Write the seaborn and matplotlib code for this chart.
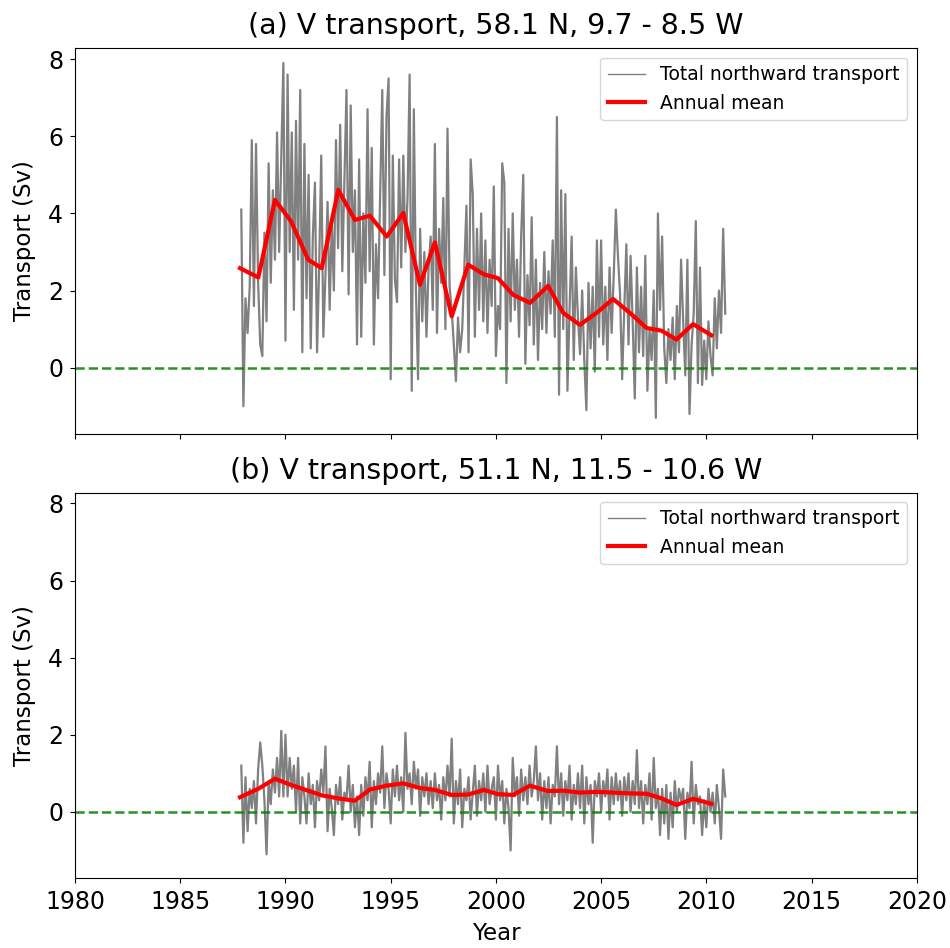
import matplotlib
matplotlib.use("Agg")
import matplotlib.pyplot as plt
import numpy as np
import pandas as pd
import seaborn as sns

# time axis of the gray series: one value every 0.1 yr, 1987.9 .. 2010.9
t_start, t_step = 1987.9, 0.1

# (a) 58.1 N, total northward transport (Sv)
transport_a = [
    4.1, -1.0, 1.8, 0.9, 2.1, 5.9, 1.6, 5.8, 2.2, 0.6,
    0.3, 3.5, 1.2, 5.3, 2.2, 4.6, 2.8, 6.1, 3.0, 5.4,
    7.9, 0.7, 7.6, 3.0, 6.1, 1.5, 6.4, 2.8, 7.2, 0.4,
    5.8, 1.8, 5.0, 0.5, 3.4, 4.8, 0.4, 2.6, 5.5, 0.8,
    2.4, 4.3, 1.5, 3.8, 2.0, 5.9, 3.1, 6.3, 2.5, 4.9,
    7.2, 1.9, 6.8, 3.0, 4.6, 0.6, 5.4, 0.8, 4.0, 2.2,
    6.7, 2.5, 5.7, 0.6, 3.2, 1.8, 4.5, 7.2, 2.4, 6.5,
    7.5, -0.3, 5.5, 2.3, 1.7, 5.4, 2.6, 5.5, 3.0, 4.4,
    7.6, -0.6, 6.7, 2.0, -0.3, 3.6, 1.2, 3.0, 0.8, 2.6,
    3.4, 1.5, 5.8, 0.9, 3.6, 2.2, 4.4, 1.0, 6.2, 2.1,
    1.5, 0.6, -0.35, 1.3, 0.4, 1.0, 2.6, 4.2, 0.4, 5.4,
    4.5, 0.8, 3.6, 1.5, 4.0, 1.2, 3.3, 0.9, 2.8, 1.6,
    4.7, 0.3, 1.6, 1.0, 5.3, 4.8, -0.4, 3.6, 1.2, 4.0,
    1.5, 2.8, 0.8, 3.4, 5.0, 0.1, 2.4, 1.1, 3.9, 0.6,
    2.8, 0.2, 2.2, 1.0, 3.0, 0.9, 2.5, 1.4, 3.3, 0.8,
    6.5, -0.7, 4.6, 1.0, 4.5, -0.6, 1.5, 3.4, 0.2, 2.6,
    1.3, 0.35, 2.0, 0.2, -1.1, 2.2, 0.5, 2.1, -0.1, 3.3,
    0.8, 3.3, 0.6, 2.1, 0.2, 2.6, 0.9, 2.4, 4.1, 2.9,
    1.9, -0.3, 1.5, 3.2, 0.6, 2.9, 1.2, -0.8, 2.6, 0.4,
    2.1, 0.3, 2.9, -0.6, 1.0, 0.2, 2.0, -1.3, 4.0, 1.5,
    3.4, 0.5, -0.4, 1.0, 0.2, 1.3, -0.3, 1.6, 0.4, 2.8,
    1.2, -0.2, 2.8, -1.2, 0.6, 1.4, 3.8, -0.4, 2.6, -0.45,
    0.7, -0.3, 1.2, 0.3, -0.2, 1.8, 0.5, 2.0, 0.9, 3.6, 1.4,
]

# (b) 51.1 N
transport_b = [
    1.2, -0.8, 0.9, -0.5, 0.6, 0.1, 0.8, -0.3, 1.1, 1.8,
    1.2, 0.3, -1.1, 0.8, 0.2, 1.1, 0.5, 1.4, 0.4, 2.1,
    0.4, 2.0, 0.4, 1.4, 0.6, 1.2, 0.0, 1.4, -0.3, 0.9,
    0.4, -0.3, 1.0, 0.2, 0.7, -0.4, 0.8, 0.3, 1.1, 0.5,
    1.7, -0.5, 0.6, 0.1, -0.6, 0.7, 0.2, 0.9, -0.2, 0.5,
    0.3, 1.2, 0.0, 0.7, -0.4, 0.4, -0.6, 0.7, -0.1, 0.9,
    0.3, 1.3, -0.4, 0.8, 0.2, 1.0, 0.5, 1.7, 0.1, 1.0,
    0.6, -0.3, 1.1, 0.4, 1.2, 0.3, 0.9, 0.0, 2.05, 0.6,
    1.0, 0.2, 1.3, 0.6, 1.1, -0.1, 0.9, 0.4, 1.0, 0.2,
    0.8, 0.1, 1.0, 0.3, 0.7, -0.2, 0.9, 0.3, 1.2, 0.4,
    1.9, -0.3, 0.8, 0.2, 1.1, -0.4, 0.6, 0.3, 0.9, -0.2,
    0.5, 1.2, -0.1, 0.8, 0.3, 1.0, 0.0, 1.2, 0.2, 0.6,
    0.9, -0.2, 1.2, 0.3, 0.8, -0.3, 0.6, 0.1, -1.0, 1.4,
    0.4, 0.9, -0.1, 1.1, 0.3, 0.9, 0.2, 1.2, 0.4, 0.8,
    1.7, 0.3, 1.0, -0.2, 0.8, 0.1, 0.9, -0.3, 0.7, 0.4,
    1.7, 0.2, 1.0, -0.1, 0.8, 0.3, 1.2, -0.2, 0.7, 0.2,
    1.0, 0.1, 1.2, -0.3, 0.9, 0.2, 0.7, -0.8, 0.8, 0.4,
    1.0, 0.0, 0.8, 0.4, 1.1, -0.2, 0.9, 0.2, 1.0, 0.3,
    0.8, -0.1, 0.9, 0.3, 1.0, 0.0, 0.8, 0.2, 1.6, 0.1,
    0.8, -0.3, 0.7, 0.2, 1.0, -0.2, 1.4, 0.1, 0.6, -0.6,
    0.6, -0.3, 0.7, -0.7, 0.5, -0.4, 0.8, 0.0, 0.6, 0.3,
    0.6, -0.7, 0.5, 0.1, 1.3, -0.3, 0.7, 0.2, 0.4, -0.6,
    0.3, -0.4, 0.6, 0.0, 0.5, -0.3, 0.7, 0.1, -0.7, 1.1, 0.4,
]

# annual means (red), positions as plotted in the reference
mean_years = [
    1987.84, 1988.71, 1989.50, 1990.26, 1991.08, 1991.72, 1992.51, 1993.30,
    1994.01, 1994.81, 1995.60, 1996.39, 1997.10, 1997.90, 1998.68, 1999.43,
    2000.10, 2000.82, 2001.62, 2002.48, 2003.20, 2003.99, 2004.78, 2005.57,
    2006.37, 2007.16, 2007.87, 2008.58, 2009.37, 2010.24,
]
mean_a = [
    2.58, 2.34, 4.35, 3.80, 2.80, 2.58, 4.61, 3.83, 3.94, 3.40, 4.01, 2.15,
    3.25, 1.33, 2.67, 2.42, 2.32, 1.89, 1.68, 2.12, 1.42, 1.11, 1.42, 1.78,
    1.42, 1.03, 0.96, 0.73, 1.13, 0.84,
]
mean_b = [
    0.38, 0.60, 0.86, 0.70, 0.55, 0.43, 0.35, 0.29, 0.58, 0.68, 0.74, 0.62,
    0.57, 0.44, 0.45, 0.57, 0.46, 0.44, 0.68, 0.54, 0.55, 0.50, 0.52, 0.50,
    0.48, 0.47, 0.35, 0.18, 0.34, 0.21,
]

titles = ["(a) V transport, 58.1 N, 9.7 - 8.5 W",
          "(b) V transport, 51.1 N, 11.5 - 10.6 W"]

times = t_start + t_step * np.arange(len(transport_a))

fig, axes = plt.subplots(2, 1, figsize=(9.5, 9.48), dpi=100, sharex=True, sharey=True)
fig.subplots_adjust(left=0.079, right=0.965, top=0.949, bottom=0.074, hspace=0.153)

for ax, series, means, title in zip(axes, [transport_a, transport_b], [mean_a, mean_b], titles):
    df = pd.DataFrame({"year": times, "transport": series})
    dm = pd.DataFrame({"year": mean_years, "transport": means})
    sns.lineplot(data=df, x="year", y="transport", ax=ax, color="gray",
                 linewidth=1.6, label="Total northward transport")
    sns.lineplot(data=dm, x="year", y="transport", ax=ax, color="red",
                 linewidth=3.0, label="Annual mean")
    ax.axhline(0, color="green", linestyle="--", linewidth=1.8, alpha=0.85)
    ax.set_title(title, fontsize=20.5, pad=10)
    ax.set_ylabel("Transport (Sv)", fontsize=16.5, labelpad=9)
    ax.set_xlabel("")
    ax.tick_params(labelsize=17, pad=5)
    leg = ax.legend(loc="upper right", fontsize=13.5)
    leg.get_lines()[0].set_linewidth(1.0)

axes[0].set_xlim(1980, 2020)
axes[0].set_ylim(-1.71, 8.28)
axes[0].set_yticks([0, 2, 4, 6, 8])
axes[1].set_xticks(range(1980, 2021, 5))
axes[1].set_xlabel("Year", fontsize=16.5, labelpad=6)

fig.savefig("out.png")
